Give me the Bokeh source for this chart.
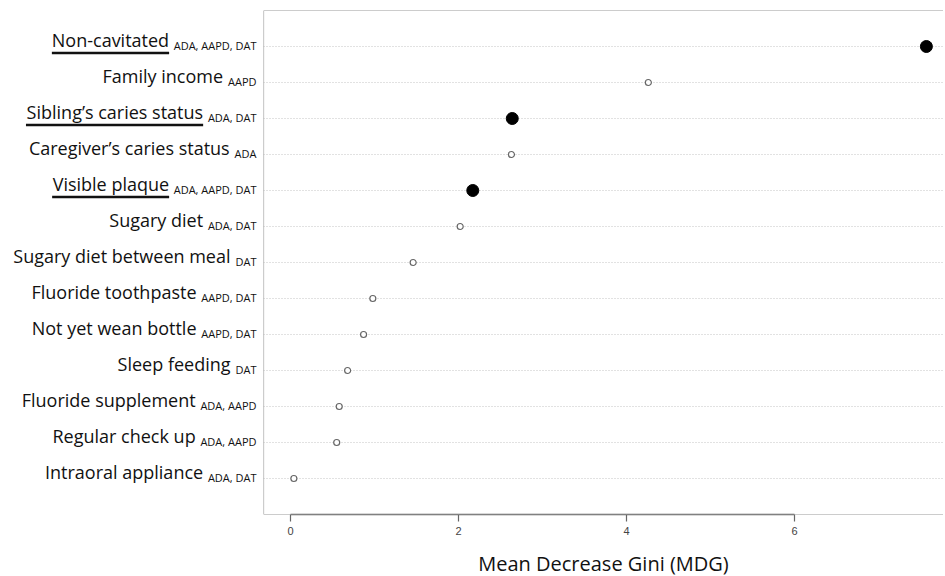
from bokeh.plotting import figure
from bokeh.models import Range1d, Span, FixedTicker, ColumnDataSource
from bokeh.layouts import row, column
from bokeh.embed import file_html
from bokeh.resources import INLINE
from bokeh.core.properties import value

# ---------------- data ----------------
variables = ["Non-cavitated", "Family income", "Sibling\u2019s caries status",
             "Caregiver\u2019s caries status", "Visible plaque", "Sugary diet",
             "Sugary diet between meal", "Fluoride toothpaste", "Not yet wean bottle",
             "Sleep feeding", "Fluoride supplement", "Regular check up",
             "Intraoral appliance"]
guidelines = ["ADA, AAPD, DAT", "AAPD", "ADA, DAT", "ADA", "ADA, AAPD, DAT", "ADA, DAT",
              "DAT", "AAPD, DAT", "AAPD, DAT", "DAT", "ADA, AAPD", "ADA, AAPD", "ADA, DAT"]
mdg = [7.57, 4.26, 2.64, 2.63, 2.17, 2.02, 1.46, 0.98, 0.87, 0.68, 0.58, 0.55, 0.04]
highlighted = [True, False, True, False, True, False, False, False, False, False,
               False, False, False]
x_ticks = [0, 2, 4, 6]
x_title = "Mean Decrease Gini (MDG)"

# ---------------- layout constants ----------------
ROW_PX = 36.0
PX_PER_UNIT = 84.0
FRAME_W = 680
LABEL_W = 263
TOP = 10
FRAME_H = 504
BOTTOM = 30
MAIN_H = TOP + FRAME_H + BOTTOM
TITLE_H = 32
MAIN_FS = 18
SUB_FS = 11
FONT = "Open Sans"

# approximate Open Sans advance widths (em)
W = {' ': .26, ',': .245, '-': .322, '\u2019': .2, "'": .197,
     'A': .633, 'D': .718, 'P': .604, 'T': .556, 'N': .748, 'S': .547, 'V': .619,
     'F': .562, 'C': .619, 'I': .291, 'R': .614,
     'a': .556, 'b': .613, 'c': .48, 'd': .613, 'e': .561, 'f': .339, 'g': .548,
     'h': .614, 'i': .253, 'j': .253, 'k': .525, 'l': .253, 'm': .93, 'n': .614,
     'o': .604, 'p': .613, 'q': .613, 'r': .408, 's': .477, 't': .353, 'u': .614,
     'v': .501, 'w': .778, 'x': .524, 'y': .502, 'z': .451}


def tw(s, fs):
    return sum(W.get(ch, .55) for ch in s) * fs


n = len(variables)
ypos = [n - i for i in range(n)]

x_start = -27.0 / PX_PER_UNIT
x_end = x_start + FRAME_W / PX_PER_UNIT
y_start = 0
y_end = n + 1

# ---------------- main plot ----------------
p = figure(width=FRAME_W, height=MAIN_H, x_range=Range1d(x_start, x_end),
           y_range=Range1d(y_start, y_end), output_backend="svg", toolbar_location=None,
           y_axis_location=None, min_border_left=0, min_border_right=0,
           min_border_top=TOP, min_border_bottom=BOTTOM)
p.outline_line_color = None
p.xgrid.visible = False
p.ygrid.ticker = FixedTicker(ticks=ypos)
p.ygrid.grid_line_color = "#c4c4c4"
p.ygrid.grid_line_dash = "1 2"
p.ygrid.grid_line_width = 1

for sp in [Span(location=x_start, dimension="height"),
           Span(location=y_end, dimension="width"),
           Span(location=y_start, dimension="width")]:
    sp.line_color = "#9a9a9a"
    sp.line_width = 1.2
    p.add_layout(sp)

ax = p.xaxis[0]
ax.ticker = FixedTicker(ticks=x_ticks)
ax.bounds = (min(x_ticks), max(x_ticks))
ax.axis_line_color = "#666666"
ax.axis_line_width = 1.5
ax.major_tick_line_color = "#666666"
ax.major_tick_line_width = 1.2
ax.major_tick_out = 7
ax.major_tick_in = 0
ax.minor_tick_line_color = None
ax.major_label_text_font = "Liberation Sans"
ax.major_label_text_font_size = "11px"
ax.major_label_text_color = "#444444"
ax.major_label_standoff = 5

hollow = ColumnDataSource(dict(
    x=[v for v, h in zip(mdg, highlighted) if not h],
    y=[y for y, h in zip(ypos, highlighted) if not h]))
filled = ColumnDataSource(dict(
    x=[v for v, h in zip(mdg, highlighted) if h],
    y=[y for y, h in zip(ypos, highlighted) if h]))
p.scatter("x", "y", source=hollow, size=6, fill_color="white",
          line_color="#666666", line_width=1.2)
p.scatter("x", "y", source=filled, size=12, fill_color="black", line_color="black")

# ---------------- axis title panel ----------------
tf = figure(width=FRAME_W, height=TITLE_H, x_range=p.x_range, y_range=Range1d(0, TITLE_H),
            output_backend="svg", toolbar_location=None, x_axis_location=None,
            y_axis_location=None, min_border=0)
tf.outline_line_color = None
tf.xgrid.visible = False
tf.ygrid.visible = False
title_x = (x_start + x_end) / 2
tf.text(x=[title_x], y=[13.5], text=[x_title], text_align="center",
        text_baseline="middle", text_font=value(FONT), text_font_size="20px",
        text_color="#111111")

# ---------------- label panel ----------------
lf = figure(width=LABEL_W, height=MAIN_H, x_range=Range1d(0, LABEL_W), y_range=p.y_range,
            output_backend="svg", toolbar_location=None, x_axis_location=None,
            y_axis_location=None, min_border_left=0, min_border_right=0,
            min_border_top=TOP, min_border_bottom=BOTTOM)
lf.outline_line_color = None
lf.xgrid.visible = False
lf.ygrid.visible = False

SUB_RIGHT = 256
GAP = 5
sub_w = [tw(g, SUB_FS) for g in guidelines]
main_right = [SUB_RIGHT - w - GAP for w in sub_w]
main_w = [tw(v, MAIN_FS) for v in variables]

lf.text(x=main_right, y=ypos, text=variables, text_align="right",
        text_baseline="alphabetic", text_font=value(FONT), text_font_size=f"{MAIN_FS}px",
        text_color="#111111", y_offset=-7)
lf.text(x=[SUB_RIGHT] * n, y=ypos, text=guidelines, text_align="right",
        text_baseline="alphabetic", text_font=value(FONT), text_font_size=f"{SUB_FS}px",
        text_color="#111111", y_offset=-1.5)

ul_x0 = [r - w for r, w, h in zip(main_right, main_w, highlighted) if h]
ul_x1 = [r for r, h in zip(main_right, highlighted) if h]
ul_y = [y - 6.5 / ROW_PX for y, h in zip(ypos, highlighted) if h]
lf.segment(x0=ul_x0, y0=ul_y, x1=ul_x1, y1=ul_y, line_color="#111111", line_width=2.5)

layout = row(lf, column(p, tf, spacing=0), spacing=0)
open("out.html", "w").write(file_html(layout, INLINE))
